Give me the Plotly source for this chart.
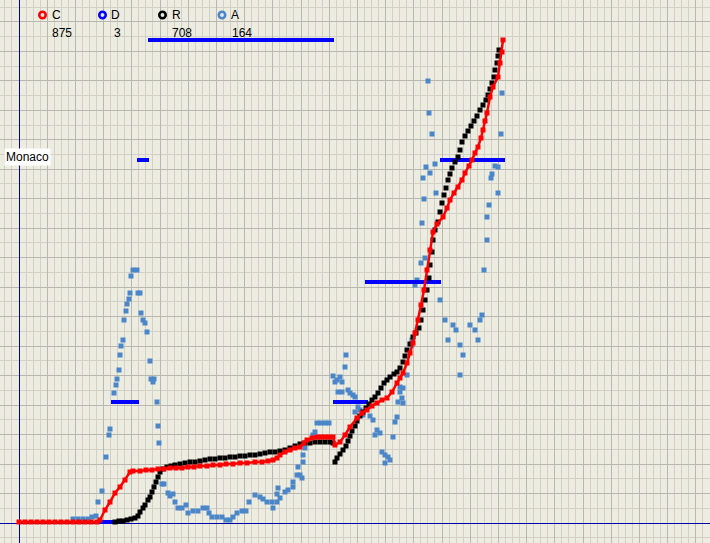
import plotly.graph_objects as go

W, H = 710, 543
X0, Y0 = 19, 523  # axis origin in pixels (layout only)

# ---- data (x, y in chart units) ----
c_x = [0, 6, 12, 18, 24, 30, 36, 42, 48, 54, 60, 66, 72, 78, 81, 86, 91, 96, 101, 106, 111, 114,
       121, 127, 133, 139, 145, 151, 157, 163, 169, 175, 181, 188, 194, 201, 207, 214, 221, 228, 236,
       243, 249, 254, 258, 261, 266, 271, 276, 281, 285, 288, 293, 298, 302, 306, 310, 314, 316, 321,
       326, 331, 338, 343, 348, 353, 358, 363, 368, 373, 378, 381, 384, 388, 391, 394, 396, 399, 402,
       405, 408, 411, 414, 418, 424, 428, 431, 435, 439, 443, 446, 450, 453, 456, 459, 462, 464, 466,
       468, 471, 474, 479, 481, 483, 484]
c_y = [1, 1, 1, 1, 1, 1, 1, 1, 1, 1, 1, 1, 1, 1, 3, 13, 21, 30, 36, 43, 51, 52,
       52, 53, 53, 54, 54, 55, 55, 55, 56, 56, 57, 57, 58, 58, 59, 59, 60, 60, 61,
       61, 62, 63, 65, 68, 71, 73, 75, 76, 80, 83, 85, 86, 86, 86, 86, 86, 78, 81,
       88, 96, 105, 110, 113, 117, 120, 123, 125, 131, 140, 145, 150, 160, 170, 180, 190, 203, 218,
       233, 253, 273, 291, 299, 306, 315, 323, 330, 336, 343, 350, 357, 363, 370, 376, 385, 393, 402,
       410, 426, 436, 446, 460, 471, 483]

r_x = [96, 100, 104, 108, 112, 116, 119, 121, 124, 126, 129, 131, 133, 135, 137, 139, 141, 144, 148,
       152, 156, 161, 166, 171, 176, 181, 186, 191, 196, 201, 206, 211, 216, 221, 226, 231, 236, 241,
       246, 251, 256, 261, 266, 271, 276, 281, 286, 291, 296, 301, 306, 311, 314,
       316, 318, 321, 324, 327, 329, 331, 333, 336, 338, 341, 344, 347, 350, 353, 356, 359, 362, 365,
       368, 371, 375, 378, 381, 384, 386, 388, 391, 394, 397, 400, 402, 404, 406, 408, 410, 411, 413,
       414, 416, 419, 421, 423, 425, 427, 429, 431, 433, 436, 439, 441, 443, 446, 449, 452, 455, 458,
       461, 464, 467, 469, 471, 473, 475, 476, 478, 479, 480]
r_y = [1, 2, 2, 3, 4, 5, 7, 11, 15, 18, 23, 26, 31, 36, 41, 46, 51, 54, 56,
       57, 58, 59, 60, 61, 61, 62, 63, 64, 64, 65, 65, 66, 66, 67, 67, 68, 68, 69,
       70, 71, 71, 72, 73, 75, 77, 79, 80, 80, 81, 81, 81, 81, 80,
       61, 65, 69, 73, 77, 82, 87, 92, 97, 102, 107, 111, 115, 119, 123, 126, 130, 135, 140,
       143, 146, 149, 151, 155, 161, 167, 173, 179, 186, 190, 195, 203, 213, 223, 233, 245, 258, 271,
       283, 293, 301, 311, 320, 328, 335, 343, 349, 355, 361, 366, 373, 381, 387, 392, 397, 402, 407,
       413, 418, 423, 428, 434, 440, 446, 453, 460, 467, 473]

d_x = [78, 96, None, 92, 120, None, 118, 130, None, 129, 315, None, 314, 349, None, 346, 422, None, 421, 486]
d_y = [1, 1, None, 121, 121, None, 363, 363, None, 483, 483, None, 121, 121, None, 241, 241, None, 363, 363]

a_x = [54, 59, 64, 69, 73, 77, 79, 83, 87, 90, 91, 95, 97, 98, 100, 101, 102, 104, 105, 107, 108, 110,
       111, 112, 114, 118, 119, 121, 122, 124, 126, 128, 131, 132, 135, 134, 138, 139, 140,
       143, 145, 149, 151, 154, 156, 159, 163, 167, 169, 174, 179, 184, 188, 190, 193, 198, 203, 207,
       211, 214, 218, 223, 227, 230, 236, 241, 244, 248, 253, 254, 258, 261, 258, 259, 266, 269, 274,
       274, 278, 281, 283, 279, 284, 284, 286, 294, 296, 298, 302, 306, 310,
       314, 318, 316, 321, 323, 326, 327, 319, 323, 329, 331, 334, 336, 339, 341, 336, 344, 351, 354,
       358, 361, 356, 363, 366, 369, 371, 366, 374, 376, 378, 381, 384, 381, 383, 379, 384, 388, 393, 393,
       396, 398, 403, 404, 405, 407, 409, 410, 411, 413, 416, 417, 406, 402,
       421, 426, 429, 434, 437, 441, 444, 441, 451, 456, 461, 463, 459, 465, 468, 468, 470, 472, 473,
       476, 479, 479, 482, 483]
a_y = [4, 4, 4, 4, 6, 7, 21, 32, 66, 88, 94, 130, 138, 144, 153, 168, 177, 183, 203, 212, 219, 224,
       230, 247, 253, 253, 230, 230, 210, 203, 200, 191, 162, 144, 144, 141, 121, 97, 80,
       39, 39, 30, 27, 29, 21, 15, 15, 18, 10, 12, 12, 15, 15, 10, 6, 6, 6, 3,
       3, 6, 10, 12, 12, 21, 28, 26, 24, 21, 21, 15, 21, 25, 29, 35, 31, 33, 36,
       41, 48, 48, 45, 56, 61, 68, 75, 88, 91, 100, 100, 100, 100,
       147, 143, 141, 146, 141, 156, 168, 131, 131, 133, 130, 128, 126, 116, 113, 111, 108, 107, 103,
       93, 90, 88, 71, 68, 66, 63, 60, 86, 101, 106, 136, 135, 131, 125, 121, 120, 148, 183, 178,
       238, 243, 300, 345, 324, 356, 442, 410, 350, 389, 359, 330, 265, 260,
       223, 203, 183, 198, 193, 178, 168, 148, 198, 193, 203, 208, 183, 253, 283, 306, 318, 345, 349,
       357, 356, 330, 389, 430]

legend_names = ["C", "D", "R", "A"]
legend_counts = ["875", "3", "708", "164"]
legend_colors = ["#FF0000", "#0000FF", "#000000", "#4A86C8"]
place_label = "Monaco"

BG = "#EDECE1"
AXIS = "#0000A8"

fig = go.Figure()
fig.add_trace(go.Scatter(x=a_x, y=a_y, mode="markers", name="A",
                         marker=dict(symbol="square", size=5, color="#4A86C8", line=dict(width=0))))
fig.add_trace(go.Scatter(x=d_x, y=d_y, mode="lines", name="D",
                         line=dict(color="#0000FF", width=4)))
fig.add_trace(go.Scatter(x=r_x, y=r_y, mode="markers", name="R",
                         marker=dict(symbol="square", size=5, color="#000000", line=dict(width=0))))
fig.add_trace(go.Scatter(x=c_x, y=c_y, mode="lines+markers", name="C",
                         line=dict(color="#FF0000", width=2.5),
                         marker=dict(symbol="square", size=5, color="#FF0000", line=dict(width=0))))

shapes = []
annotations = []
legend_px = [42.5, 102.5, 162.5, 222]
count_px = [50, 112, 170, 230]
for name, cnt, col, lx, cx in zip(legend_names, legend_counts, legend_colors, legend_px, count_px):
    r = 3.2
    shapes.append(dict(type="circle", xref="paper", yref="paper",
                       x0=(lx - r) / W, x1=(lx + r) / W, y0=1 - (15 + r) / H, y1=1 - (15 - r) / H,
                       line=dict(color=col, width=2.6), fillcolor="#E8E8E8", layer="above"))
    annotations.append(dict(text=name, xref="paper", yref="paper", x=(lx + 7) / W, y=1 - 15 / H,
                            xanchor="left", yanchor="middle", showarrow=False,
                            font=dict(family="Liberation Sans", size=12, color="#000000")))
    annotations.append(dict(text=cnt, xref="paper", yref="paper", x=cx / W, y=1 - 33 / H,
                            xanchor="left", yanchor="middle", showarrow=False,
                            font=dict(family="Liberation Sans", size=12, color="#000000")))

annotations.append(dict(text=place_label, xref="paper", yref="paper", x=4 / W, y=1 - 157 / H,
                        xanchor="left", yanchor="middle", showarrow=False, bgcolor="#FFFFFF",
                        borderpad=1,
                        font=dict(family="Liberation Sans", size=12, color="#000000")))

fig.update_layout(
    width=W, height=H, autosize=False,
    margin=dict(l=0, r=0, t=0, b=0, pad=0),
    paper_bgcolor=BG, plot_bgcolor=BG,
    showlegend=False,
    shapes=shapes, annotations=annotations,
    xaxis=dict(range=[-X0, W - X0], showticklabels=False, ticks="",
               showgrid=True, gridcolor="#B9B8B0", gridwidth=1, tick0=0, dtick=28.2,
               minor=dict(showgrid=True, gridcolor="#D3D1C7", gridwidth=1, tick0=0, dtick=7.05),
               zeroline=True, zerolinecolor=AXIS, zerolinewidth=1, showline=False, fixedrange=True),
    yaxis=dict(range=[-(H - Y0), Y0], showticklabels=False, ticks="",
               showgrid=True, gridcolor="#B9B8B0", gridwidth=1, tick0=0, dtick=29.48,
               minor=dict(showgrid=True, gridcolor="#D3D1C7", gridwidth=1, tick0=0, dtick=14.74),
               zeroline=True, zerolinecolor=AXIS, zerolinewidth=1, showline=False, fixedrange=True),
)

fig.write_html("out.html", config={"displayModeBar": False},
               post_script="document.body.style.margin='0px';document.body.style.padding='0px';")
